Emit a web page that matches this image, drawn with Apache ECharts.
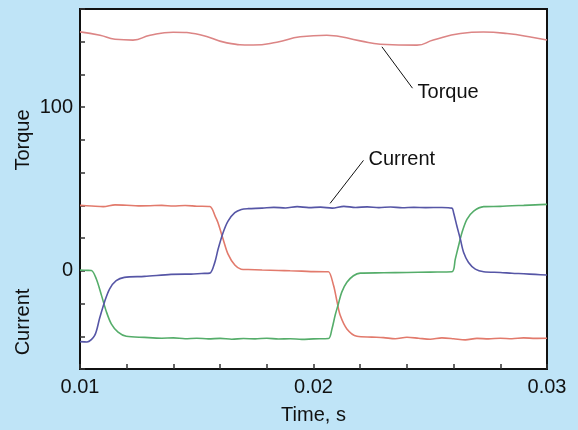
<!DOCTYPE html>
<html>
<head>
<meta charset="utf-8">
<script src="https://cdn.jsdelivr.net/npm/echarts@6/dist/echarts.min.js"></script>
<style>
  html, body { margin: 0; padding: 0; background: #bfe4f7; }
  #chart { width: 578px; height: 430px; }
</style>
</head>
<body>
<div id="chart"></div>
<script>
// Time axis ticks (s) and value axis ticks
const timeTicks = [0.01, 0.02, 0.03];
const valueTicks = [0, 100];

// Motor torque trace: [time s, torque]
const torqueTrace = [
  [0.01000, 146.0], [0.01086, 144.0], [0.01150, 141.5], [0.01227, 141.0],
  [0.01300, 144.0], [0.01399, 145.8], [0.01514, 144.3], [0.01629, 139.3],
  [0.01741, 138.0], [0.01843, 139.7], [0.01943, 143.0], [0.02057, 144.0],
  [0.02200, 140.5], [0.02286, 138.5], [0.02443, 137.9], [0.02513, 141.0],
  [0.02629, 145.0], [0.02727, 145.9], [0.02829, 145.0], [0.02941, 142.6],
  [0.03000, 141.0]
];

// Phase A current (red)
const phaseA = [
  [0.0100, 40.0], [0.0105, 39.6], [0.0110, 39.2], [0.0115, 40.3], [0.0120, 40.1],
  [0.0125, 39.7], [0.0130, 39.8], [0.0135, 40.0], [0.0140, 39.6], [0.0145, 39.9],
  [0.0150, 39.5], [0.01556, 39.3], [0.0158, 33.0], [0.01591, 29.4], [0.01613, 19.3],
  [0.01634, 10.2], [0.01663, 3.5], [0.0169, 1.0], [0.0172, 0.8], [0.0178, 0.5],
  [0.0185, 0.2], [0.0190, 0.0], [0.0195, -0.2], [0.0200, -0.5], [0.0205, -0.6],
  [0.02064, -0.6], [0.02086, -9.0], [0.02101, -19.0], [0.02114, -27.0],
  [0.02143, -35.5], [0.02186, -40.0], [0.0225, -40.5], [0.0230, -40.8],
  [0.0235, -41.5], [0.0240, -40.6], [0.0245, -41.2], [0.0250, -41.8],
  [0.0255, -41.0], [0.0260, -41.5], [0.0265, -42.2], [0.0270, -41.3],
  [0.0275, -41.6], [0.0280, -41.2], [0.0285, -41.5], [0.0290, -41.0],
  [0.0295, -41.3], [0.0300, -41.2]
];

// Phase B current (blue)
const phaseB = [
  [0.0100, -43.3], [0.0103, -43.5], [0.01063, -39.5], [0.01084, -29.0],
  [0.01105, -19.0], [0.01127, -11.0], [0.01155, -6.0], [0.0119, -4.0],
  [0.01276, -3.4], [0.0139, -2.2], [0.0145, -2.0], [0.01476, -2.0],
  [0.0152, -1.6], [0.01556, -1.4], [0.01577, 5.0], [0.01591, 13.0],
  [0.01613, 23.4], [0.01634, 30.4], [0.01663, 35.5], [0.01691, 37.5],
  [0.0172, 38.0], [0.0178, 38.3], [0.0183, 38.8], [0.0188, 38.4],
  [0.0193, 39.2], [0.0198, 38.6], [0.0203, 38.9], [0.0208, 38.3],
  [0.0213, 39.4], [0.0218, 38.7], [0.0223, 39.1], [0.0228, 38.6],
  [0.0233, 39.0], [0.0238, 38.5], [0.0243, 38.8], [0.0248, 38.6],
  [0.0255, 38.7], [0.02593, 38.3], [0.02600, 35.5], [0.02614, 27.4],
  [0.02629, 19.3], [0.02643, 11.2], [0.02664, 5.1], [0.02693, 1.0],
  [0.02729, -0.6], [0.0280, -1.0], [0.0285, -1.5], [0.0290, -1.8],
  [0.0295, -2.2], [0.0300, -2.6]
];

// Phase C current (green)
const phaseC = [
  [0.0100, 0.4], [0.0103, 0.3], [0.01049, 0.2], [0.01070, -5.0],
  [0.01092, -15.0], [0.01113, -25.0], [0.01134, -32.4], [0.01163, -37.5],
  [0.01198, -40.0], [0.01276, -40.7], [0.0135, -41.2], [0.0140, -41.0],
  [0.0145, -41.5], [0.0150, -41.2], [0.0155, -41.6], [0.0160, -41.3],
  [0.0165, -41.8], [0.0170, -41.4], [0.0175, -41.6], [0.0180, -41.2],
  [0.0185, -41.7], [0.0190, -41.5], [0.0195, -41.9], [0.0200, -41.6],
  [0.02064, -41.4], [0.02079, -35.5], [0.02093, -27.0], [0.02107, -20.0],
  [0.02121, -13.0], [0.02143, -7.0], [0.02171, -3.0], [0.02200, -1.4],
  [0.0230, -1.2], [0.0240, -1.0], [0.0250, -0.8], [0.02593, -0.6],
  [0.02607, 7.0], [0.02621, 15.2], [0.02636, 23.4], [0.02657, 31.4],
  [0.02686, 36.5], [0.02729, 39.2], [0.0280, 39.4], [0.0285, 39.8],
  [0.0290, 40.0], [0.0295, 40.3], [0.0300, 40.6]
];

// Callout leader lines: [from, to] in data units
const torqueCallout = [[0.02293, 136.9], [0.02424, 111.6]];
const currentCallout = [[0.02214, 67.5], [0.02071, 41.2]];

const FONT = '"Liberation Sans", Arial, Helvetica, sans-serif';
const INK = '#111111';

function isListed(v, list, tol) {
  return list.some(t => Math.abs(v - t) < tol);
}

const chart = echarts.init(document.getElementById('chart'), null, { renderer: 'canvas' });

function callout(pair) {
  return {
    silent: true,
    symbol: ['none', 'none'],
    lineStyle: { color: INK, width: 1, type: 'solid' },
    label: { show: false },
    data: [[{ coord: pair[0] }, { coord: pair[1] }]]
  };
}

function calloutText(pair, text, dy) {
  return {
    silent: true,
    symbol: 'circle',
    symbolSize: 0,
    label: {
      show: true, position: 'right', distance: 5, offset: [0, dy],
      formatter: text, color: INK, fontSize: 20, fontFamily: FONT
    },
    data: [{ coord: pair }]
  };
}

chart.setOption({
  animation: false,
  backgroundColor: '#bfe4f7',
  grid: {
    left: 80, right: 31, top: 9, bottom: 59,
    show: true, backgroundColor: '#ffffff',
    borderColor: INK, borderWidth: 2
  },
  xAxis: {
    type: 'value',
    min: 0.01, max: 0.03, interval: 0.002,
    name: 'Time, s', nameLocation: 'middle', nameGap: 36,
    nameTextStyle: { color: INK, fontSize: 20, fontFamily: FONT },
    axisLine: { show: true, onZero: false, lineStyle: { color: INK, width: 2 } },
    axisTick: { show: true, inside: true, length: 5, lineStyle: { color: '#333', width: 1.5 } },
    splitLine: { show: false },
    axisLabel: {
      color: INK, fontSize: 20, fontFamily: FONT, margin: 8,
      formatter: v => isListed(v, timeTicks, 1e-6) ? v.toFixed(2) : ''
    }
  },
  yAxis: {
    type: 'value',
    min: -60, max: 160, interval: 20,
    axisLine: { show: true, onZero: false, lineStyle: { color: INK, width: 2 } },
    axisTick: { show: true, inside: true, length: 5, lineStyle: { color: '#333', width: 1.5 } },
    splitLine: { show: false },
    axisLabel: {
      color: INK, fontSize: 20, fontFamily: FONT, margin: 7,
      formatter: v => isListed(v, valueTicks, 1e-6) ? String(v) : ''
    }
  },
  graphic: [
    {
      type: 'text', x: 23, y: 140, rotation: Math.PI / 2,
      style: { text: 'Torque', fill: INK, font: '20px ' + FONT, align: 'center', verticalAlign: 'middle' }
    },
    {
      type: 'text', x: 23, y: 322, rotation: Math.PI / 2,
      style: { text: 'Current', fill: INK, font: '20px ' + FONT, align: 'center', verticalAlign: 'middle' }
    }
  ],
  series: [
    {
      name: 'Torque', type: 'line', data: torqueTrace, smooth: 0.5,
      showSymbol: false, lineStyle: { color: '#dc8585', width: 1.6 },
      markLine: callout(torqueCallout),
      markPoint: calloutText(torqueCallout[1], 'Torque', 4)
    },
    {
      name: 'Phase A', type: 'line', data: phaseA, smooth: 0.3,
      showSymbol: false, lineStyle: { color: '#e27a6c', width: 1.6 }
    },
    {
      name: 'Phase C', type: 'line', data: phaseC, smooth: 0.3,
      showSymbol: false, lineStyle: { color: '#55ad6a', width: 1.6 }
    },
    {
      name: 'Phase B', type: 'line', data: phaseB, smooth: 0.3,
      showSymbol: false, lineStyle: { color: '#5656a6', width: 1.6 },
      markLine: callout(currentCallout),
      markPoint: calloutText(currentCallout[0], 'Current', -1)
    }
  ]
});
</script>
</body>
</html>
